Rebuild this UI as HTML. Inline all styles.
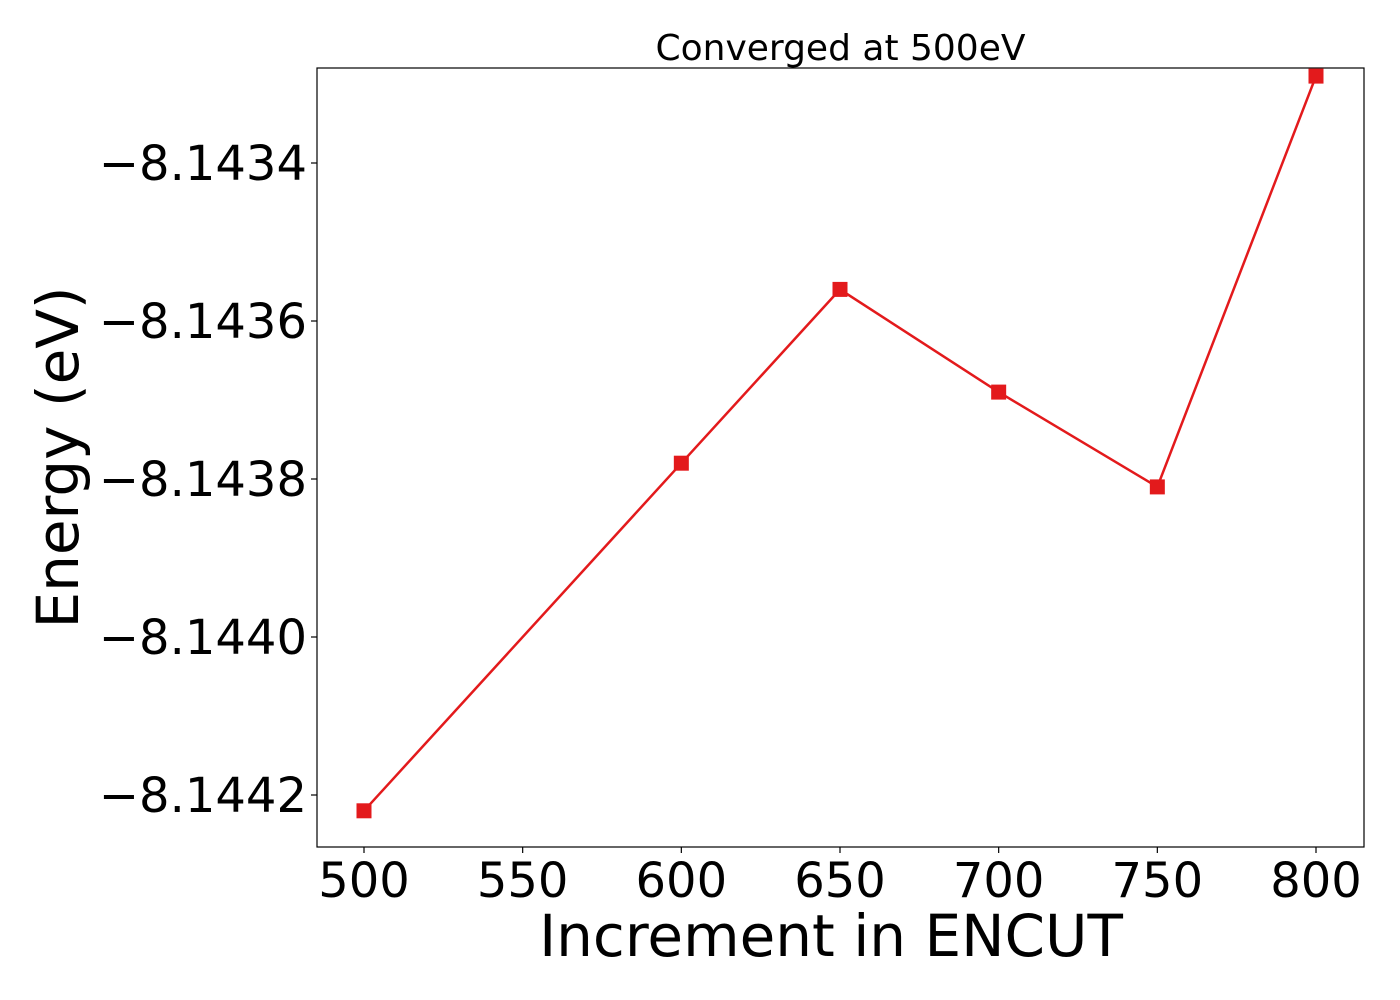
<!DOCTYPE html>
<html><head><meta charset="utf-8"><style>
html,body{margin:0;padding:0;background:#fff;}
svg{display:block;font-family:"DejaVu Sans","Liberation Sans",sans-serif;}
</style></head><body>
<svg id="chart" width="1400" height="1000"></svg>
<script>
const xValues = [500, 600, 650, 700, 750, 800];
const energies = [-8.14422, -8.14378, -8.14356, -8.14369, -8.14381, -8.14329];
const xTicks = [500, 550, 600, 650, 700, 750, 800];
const yTicks = [-8.1434, -8.1436, -8.1438, -8.1440, -8.1442];
const yTickLabels = ["\u22128.1434", "\u22128.1436", "\u22128.1438", "\u22128.1440", "\u22128.1442"];

const NS = "http://www.w3.org/2000/svg";
const svg = document.getElementById("chart");
const L = 317, R = 1364, T = 68, B = 847;
const xs = v => 364 + (v - 500) * (1316 - 364) / 300;
const ys = v => 163 + (-8.1434 - v) * 790000;
function mk(tag, attrs, parent) {
  const e = document.createElementNS(NS, tag);
  for (const k in attrs) e.setAttribute(k, attrs[k]);
  (parent || svg).appendChild(e);
  return e;
}
const frame = mk("rect", {x: L, y: T, width: R - L, height: B - T, fill: "none", stroke: "#000", "stroke-width": 1.2});



const xg = mk("g", {});


xTicks.forEach(t => {
  const x = xs(t);
  mk("line", {x1: x, x2: x, y1: B, y2: B + 6, stroke: "#000", "stroke-width": 1.2}, xg);
  const tx = mk("text", {x: x, y: B + 50, "text-anchor": "middle", "font-size": 48}, xg);
  tx.textContent = t;
  
  
});
const yg = mk("g", {});


yTicks.forEach((t, i) => {
  const y = ys(t);
  mk("line", {x1: L - 6, x2: L, y1: y, y2: y, stroke: "#000", "stroke-width": 1.2}, yg);
  const tx = mk("text", {x: L - 10, y: y + 17, "text-anchor": "end", "font-size": 48}, yg);
  tx.textContent = yTickLabels[i];
  
  
});

const line = mk("polyline", {points: xValues.map((v, i) => xs(v) + "," + ys(energies[i])).join(" "), fill: "none", stroke: "#e31a1c", "stroke-width": 2.5});


xValues.forEach((v, i) => {
  const m = mk("rect", {x: xs(v) - 7.5, y: ys(energies[i]) - 7.5, width: 15, height: 15, fill: "#e31a1c"});
  
  
});

const title = mk("text", {x: (L + R) / 2, y: 60, "text-anchor": "middle", "font-size": 36});
title.textContent = "Converged at 500eV";


const xt = mk("text", {x: 831, y: 956, "text-anchor": "middle", "font-size": 58});
xt.textContent = "Increment in ENCUT";


const yt = mk("text", {x: 0, y: 0, "text-anchor": "middle", "font-size": 58, transform: "translate(78," + ((T + B) / 2) + ") rotate(-90)"});
yt.textContent = "Energy (eV)";


</script>
</body></html>
